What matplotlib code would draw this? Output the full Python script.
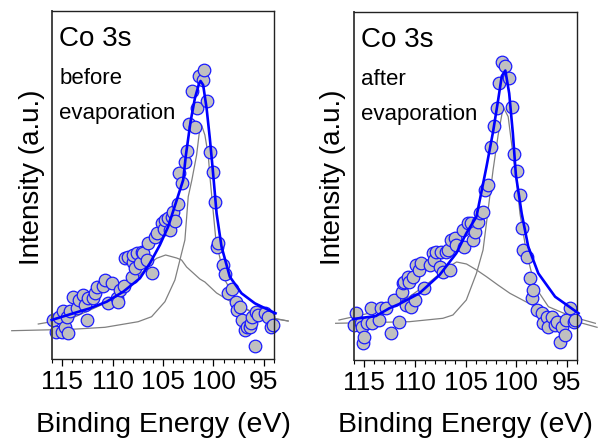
import matplotlib
matplotlib.use("Agg")
import matplotlib.pyplot as plt
from matplotlib.ticker import MultipleLocator

plt.rcParams['font.family'] = ['Liberation Sans', 'DejaVu Sans']

# ---- Co 3s, before evaporation ----
be_before = [115.87, 115.60, 115.28, 115.04, 114.94, 114.71, 114.54, 114.39, 114.22, 113.89,
             113.50, 113.30, 112.90, 112.73, 112.56, 112.40, 111.97, 111.74, 111.57, 110.98,
             110.75, 110.42, 110.09, 109.59, 109.44, 109.27, 108.87, 108.77, 108.45, 108.11,
             108.01, 107.95, 107.78, 107.61, 107.29, 107.12, 106.96, 106.62, 106.47, 106.13,
             105.80, 105.63, 105.14, 104.91, 104.81, 104.54, 104.32, 104.15, 103.99, 103.82,
             103.56, 103.43, 103.16, 102.83, 102.66, 102.41, 102.17, 101.81, 101.64, 101.45,
             101.02, 100.92, 100.62, 100.33, 100.09, 99.86, 99.63, 99.53, 99.04, 98.87,
             98.54, 98.21, 97.81, 97.71, 97.39, 97.16, 96.89, 96.72, 96.40, 96.30,
             96.17, 95.90, 95.80, 95.57, 94.91, 94.58, 94.25, 94.09]
int_before = [39, 27.3, 41.7, 27.3, 48.3, 32.3, 41.7, 25.7, 48.3, 62.3,
              50.7, 59, 64, 54, 39, 60.7, 60.7, 65.7, 71.7, 73,
              79, 55.7, 75.7, 60.7, 57.3, 69, 73, 101, 102.3, 82.3,
              97.3, 104, 90.7, 105.7, 95.7, 107.3, 105.7, 99, 115.7, 85.7,
              122.3, 125.7, 135.7, 129.7, 139, 140.7, 129, 142.3, 147.3, 138.3,
              155, 186.3, 175.7, 197.3, 208, 234.7, 268.3, 231.7, 250.7, 283.3,
              279, 289, 258, 207.3, 186.7, 157.3, 112.3, 116.3, 94, 85,
              65.7, 69.7, 57.3, 49, 52.3, 39, 29, 32.3, 32.3, 36,
              42.3, 13, 47.3, 44, 45.7, 42.3, 32.3, 34]

fit_x_before = [116.03, 113.89, 112.24, 110.58, 108.94, 107.29, 106.30, 105.31, 104.49, 103.0,
                102.73, 102.27, 101.84, 101.42, 101.28, 101.02, 100.68, 100.36, 100.11, 99.96,
                99.69, 99.20, 98.38, 97.22, 95.90, 93.85]
fit_y_before = [39, 45.7, 50.7, 57.3, 67.3, 80.7, 95.7, 114, 132.3, 179,
                204, 237.3, 260.7, 275.7, 278, 274, 250.7, 220.7, 194, 177,
                145.7, 112.3, 82.3, 65.7, 55.7, 45.7]

narrow_x_before = [119.99, 114.05, 110.75, 107.46, 106.13, 104.81, 103.82, 103.16, 102.83, 102.50,
                   102.14, 101.67, 101.35, 101.18, 100.85, 100.52, 100.31, 99.76, 98.87, 97.55,
                   95.90, 94.25, 92.60]
narrow_y_before = [28.3, 29.7, 31.7, 37.3, 42.3, 57.3, 79, 105.7, 119, 162.3,
                   179, 204, 230.7, 234, 224, 204, 178, 119, 79, 55.7,
                   44, 40.7, 38]

broad_x_before = [117.36, 114.05, 110.75, 108.61, 108.11, 106.62, 106.47, 105.63, 104.74, 103.65,
                  103.16, 102.66, 101.35, 100.85, 99.69, 98.21, 98.05, 95.90, 95.41, 92.60]
broad_y_before = [35, 40.7, 55.7, 72, 75.7, 91, 94, 100.7, 104, 101,
                  99, 92, 80, 77, 66, 57, 56, 46, 43.5, 38]

# ---- Co 3s, after evaporation ----
be_after = [115.99, 115.82, 115.33, 115.17, 115.10, 115.00, 114.67, 114.34, 114.18, 113.51,
            113.34, 112.85, 112.35, 112.03, 111.53, 111.30, 111.20, 111.03, 110.87, 110.71,
            110.54, 110.37, 110.21, 109.95, 109.87, 109.55, 109.38, 109.05, 108.55, 108.23,
            108.06, 107.89, 107.56, 107.39, 107.24, 106.90, 106.74, 106.57, 106.40, 106.08,
            105.91, 105.25, 105.15, 104.76, 104.42, 104.26, 104.09, 103.77, 103.60, 103.27,
            103.10, 102.77, 102.44, 102.21, 101.94, 101.68, 101.44, 101.12, 100.69, 100.45,
            100.20, 99.96, 99.63, 99.46, 99.30, 98.97, 98.64, 98.47, 98.31, 97.97,
            97.48, 97.40, 96.98, 96.82, 96.49, 96.16, 95.99, 95.66, 95.50, 95.17,
            95.10, 94.67, 94.34, 94.17]
int_after = [35, 46.7, 36.7, 33.3, 16.7, 23.3, 36.7, 51.7, 36.7, 40,
             51.7, 51.7, 26.7, 60, 38.3, 68.3, 76.7, 78.3, 55, 83.3,
             78.3, 53.3, 83.3, 60, 95, 90, 96.7, 71.7, 95, 106.7,
             100, 108.3, 93.3, 108.3, 88.3, 108.3, 110, 90, 120, 121.7,
             115, 130, 113.3, 136.7, 136.7, 120, 128.3, 138.3, 146.7, 148.3,
             170, 175, 213.3, 234, 251.7, 276.7, 298.3, 294, 281.7, 253.3,
             205.7, 189.3, 165, 131.7, 110, 103.3, 81.7, 61.7, 70, 50,
             46.7, 36.7, 43.3, 33.3, 43.3, 35, 38.3, 18.3, 33.3, 25,
             40, 51.7, 38.3, 40]

fit_x_after = [116.08, 113.84, 112.52, 111.53, 109.55, 107.56, 105.91, 104.92, 103.92, 102.93,
               102.28, 101.78, 101.42, 101.07, 100.69, 100.33, 100.03, 99.46, 98.81, 97.82,
               96.16, 93.85]
fit_y_after = [41, 44, 51.7, 56, 66.7, 85, 106.7, 126.7, 143.3, 193.3,
               228.3, 260, 284, 289.5, 266.7, 227, 185, 146.7, 113.3, 86.7,
               63.3, 46.7]

narrow_x_after = [117.81, 110.54, 107.23, 106.24, 104.92, 103.92, 103.27, 102.77, 102.28, 101.78,
                  101.28, 100.79, 100.29, 99.96, 99.63, 98.97, 98.14, 96.82, 94.50, 92.19]
narrow_y_after = [36.7, 38.3, 41.7, 45, 60, 86.7, 110, 150, 190, 225,
                  253, 243.3, 203.3, 180, 146.7, 106.7, 73.3, 53.3, 43.3, 36.7]

broad_x_after = [117.48, 113.84, 110.54, 108.9, 107.89, 106.9, 105.88, 104.9, 103.9, 102.93,
                 101.8, 100.62, 99.0, 97.32, 95.0, 92.02]
broad_y_after = [40, 48.3, 63.3, 75, 83.3, 92, 98, 96, 90, 83.3,
                 75, 66.7, 58, 50, 41, 32.7]

panels = [
    (be_before, int_before, fit_x_before, fit_y_before, narrow_x_before, narrow_y_before,
     broad_x_before, broad_y_before, "before"),
    (be_after, int_after, fit_x_after, fit_y_after, narrow_x_after, narrow_y_after,
     broad_x_after, broad_y_after, "after"),
]

fig = plt.figure(figsize=(6, 4.43), dpi=100)
boxes = [[52 / 600, 84 / 443, 222 / 600, 348 / 443],
         [354 / 600, 83 / 443, 223 / 600, 348 / 443]]
ylabel_x = [32, 333]

for box, lx, (bx, by, fx, fy, nx, ny, wx, wy, tag) in zip(boxes, ylabel_x, panels):
    ax = fig.add_axes(box)
    ax.plot(nx, ny, color='#808080', lw=0.9, zorder=1, clip_on=False)
    ax.plot(wx, wy, color='#808080', lw=0.9, zorder=1, clip_on=False)
    ax.scatter(bx, by, s=82, facecolor='#c0c0c0', edgecolor='#1a1aff',
               linewidth=0.9, zorder=2, clip_on=False)
    ax.plot(fx, fy, color='#0000ff', lw=1.9, zorder=3, clip_on=False)

    ax.set_xlim(116, 94)
    ax.set_ylim(0, 348)
    ax.xaxis.set_major_locator(MultipleLocator(5))
    ax.xaxis.set_minor_locator(MultipleLocator(1))
    ax.tick_params(axis='x', which='major', length=5, width=0.9, labelsize=19, pad=3)
    ax.tick_params(axis='x', which='minor', length=3, width=0.8)
    ax.set_yticks([])
    for sp in ax.spines.values():
        sp.set_linewidth(1.0)
        sp.set_color('#222222')
    ax.spines['left'].set_linewidth(1.4)
    ax.spines['left'].set_color('#444444')

    ax.text(0.032, 0.90, "Co 3s", transform=ax.transAxes, fontsize=20, va='baseline')
    ax.text(0.032, 0.79, tag, transform=ax.transAxes, fontsize=16, va='baseline')
    ax.text(0.032, 0.69, "evaporation", transform=ax.transAxes, fontsize=16, va='baseline')

    fig.text(lx / 600, 1 - 177 / 443, "Intensity (a.u.)", rotation=90,
             ha='center', va='center', fontsize=20)
    cx = box[0] + box[2] / 2
    fig.text(cx, 11 / 443, "Binding Energy (eV)", ha='center', va='baseline', fontsize=20.5)

fig.savefig("out.png", dpi=100)
